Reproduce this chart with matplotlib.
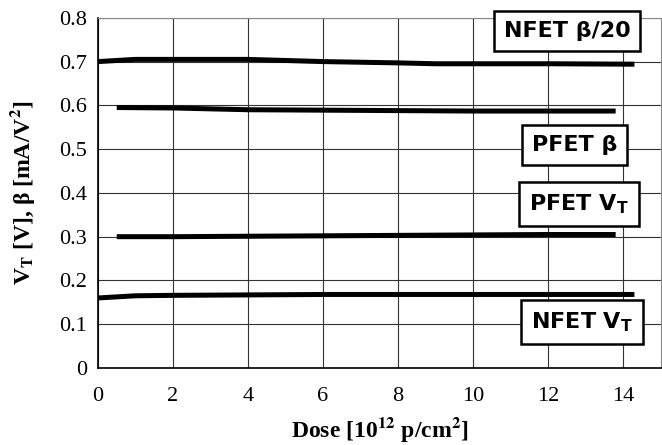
import matplotlib
matplotlib.use("Agg")
import matplotlib.pyplot as plt

# data
dose_nb = [0, 1, 2, 4, 6, 8, 9, 10, 12, 14.3]
nfet_beta20 = [0.700, 0.705, 0.705, 0.705, 0.700, 0.697, 0.695, 0.695, 0.695, 0.694]

dose_pb = [0.5, 2, 4, 6, 8, 10, 12, 13.8]
pfet_beta = [0.595, 0.594, 0.590, 0.589, 0.588, 0.587, 0.587, 0.587]

dose_pv = [0.5, 2, 4, 6, 8, 10, 12, 13.8]
pfet_vt = [0.300, 0.300, 0.301, 0.302, 0.303, 0.304, 0.305, 0.305]

dose_nv = [0, 1, 2, 4, 6, 8, 10, 12, 14.3]
nfet_vt = [0.160, 0.165, 0.166, 0.167, 0.168, 0.168, 0.168, 0.168, 0.168]

labels = ['NFET β/20', 'PFET β', 'PFET V$_\\mathbf{T}$', 'NFET V$_\\mathbf{T}$']
label_pos = [(12.5, 0.77), (12.7, 0.51), (12.82, 0.375), (12.9, 0.105)]

fig = plt.figure(figsize=(6.62, 4.45), dpi=100)
ax = fig.add_axes([0.148, 0.173, 0.85, 0.787])

for xs, ys in [(dose_nb, nfet_beta20), (dose_pb, pfet_beta),
               (dose_pv, pfet_vt), (dose_nv, nfet_vt)]:
    ax.plot(xs, ys, color='black', linewidth=3.6, solid_capstyle='butt')

ax.set_xlim(0, 15)
ax.set_ylim(0, 0.8)
ax.set_xticks(range(0, 15, 2))
ax.set_yticks([i / 10 for i in range(9)])
ax.set_yticklabels(['0'] + ['%.1f' % (i / 10) for i in range(1, 9)])
ax.grid(True, color='#333333', linewidth=0.8)
ax.set_axisbelow(True)
ax.tick_params(length=0, labelsize=16)
ax.tick_params(axis='y', pad=8)
ax.tick_params(axis='x', pad=14)
for lab in ax.get_xticklabels() + ax.get_yticklabels():
    lab.set_fontfamily('Liberation Serif')
for s in ['left', 'bottom']:
    ax.spines[s].set_linewidth(1.2)
for s in ['top', 'right']:
    ax.spines[s].set_color('#888888')
    ax.spines[s].set_linewidth(0.8)

ax.set_xlabel('Dose [10$^{\\mathbf{12}}$ p/cm$^\\mathbf{2}$]', fontsize=17,
              fontweight='bold', family='Liberation Serif', math_fontfamily='stix',
              labelpad=6)
ax.set_ylabel('V$_\\mathbf{T}$ [V], β [mA/V$^\\mathbf{2}$]', fontsize=17,
              fontweight='bold', family='Liberation Serif', math_fontfamily='stix',
              labelpad=16)

for txt, (x, y) in zip(labels, label_pos):
    ax.text(x, y, txt, ha='center', va='center', fontsize=16, fontweight='bold',
            family='DejaVu Sans', math_fontfamily='dejavusans', clip_on=False,
            bbox=dict(boxstyle='square,pad=0.45', facecolor='white',
                      edgecolor='black', linewidth=1.8))

fig.savefig('out.png', dpi=100)
